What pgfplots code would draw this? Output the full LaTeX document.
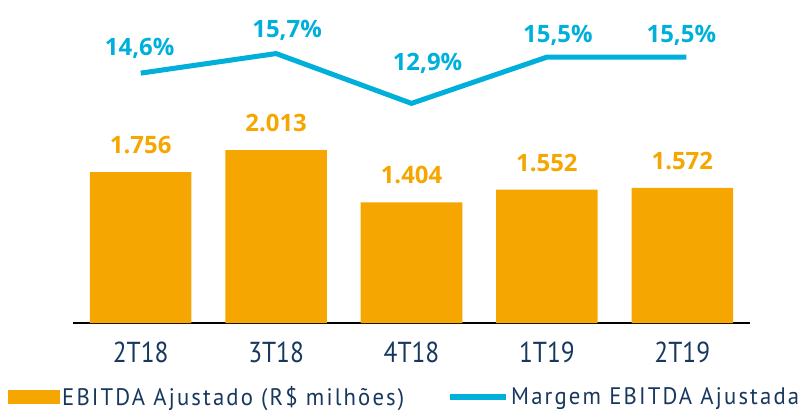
\documentclass[border=0pt]{standalone}
\usepackage{pgfplots}
\pgfplotsset{compat=1.18}
\usepackage{fontspec}
\setmainfont{Open Sans}
\newfontfamily\lblfont{Open Sans}
\newfontfamily\tickfont[FakeStretch=0.88]{PT Sans}
\newfontfamily\legfont[FakeStretch=0.95,LetterSpace=9]{PT Sans}
\definecolor{barorange}{RGB}{245,166,0}
\definecolor{linecyan}{RGB}{0,176,219}
\definecolor{navy}{RGB}{23,55,94}
\pgfplotsset{mylegend/.style={draw=none, fill=none, inner sep=0pt, anchor=west,
    font=\legfont\fontsize{24}{24}\selectfont, text=navy,
    nodes={inner sep=2bp}}}
\begin{document}
\begin{tikzpicture}
\useasboundingbox (0bp,0bp) rectangle (804bp,412bp);
\begin{axis}[
  at={(73bp,89bp)}, anchor=south west,
  scale only axis, width=677bp, height=323bp,
  xmin=-0.5, xmax=4.5, ymin=0, ymax=3760,
  axis x line=bottom, axis y line=none,
  axis line style={-, line width=1.5bp, black},
  xtick={0,1,2,3,4},
  xticklabels={2T18,3T18,4T18,1T19,2T19},
  major tick length=0pt,
  xticklabel style={font=\tickfont\fontsize{29}{29}\selectfont, text=navy, anchor=center, yshift=-29bp},
  clip=false,
  legend style={mylegend, at={(axis description cs:-0.096,-0.228)}},
]
\addplot[ybar, bar width=0.75, fill=barorange, draw=none,
  legend image code/.code={\fill[barorange] (0bp,-7bp) rectangle (52bp,7bp);},
  nodes near coords, point meta=explicit symbolic,
  nodes near coords style={font=\lblfont\bfseries\fontsize{24}{24}\selectfont, text=barorange, anchor=center, yshift=27bp}]
  table[meta=label] {
x y label
0 1756 1.756
1 2013 2.013
2 1404 1.404
3 1552 1.552
4 1572 1.572
};
\addlegendentry{EBITDA Ajustado (R\$ milhões)}
\end{axis}
\begin{axis}[
  at={(73bp,89bp)}, anchor=south west,
  scale only axis, width=677bp, height=323bp,
  xmin=-0.5, xmax=4.5, ymin=0.56, ymax=18.71,
  axis lines=none, clip=false,
  legend style={mylegend, at={(axis description cs:0.5524,-0.228)}},
]
\addplot[linecyan, line width=5bp, no markers,
  legend image code/.code={\draw[linecyan, line width=6bp] (0bp,0bp) -- (56bp,0bp);},
  nodes near coords, point meta=explicit symbolic,
  visualization depends on={\thisrow{dx}\as\dx},
  visualization depends on={\thisrow{dy}\as\dy},
  nodes near coords style={font=\lblfont\bfseries\fontsize{24}{24}\selectfont, text=linecyan, anchor=center, xshift=\dx bp, yshift=\dy bp}]
  table[meta=label] {
x y label dx dy
0 14.6 14,6\% -1 25
1 15.7 15,7\% 11 23
2 12.9 12,9\% 16 40
3 15.5 15,5\% 11 22
4.03 15.5 15,5\% -5 22
};
\addlegendentry{Margem EBITDA Ajustada}
\end{axis}
\end{tikzpicture}
\end{document}
